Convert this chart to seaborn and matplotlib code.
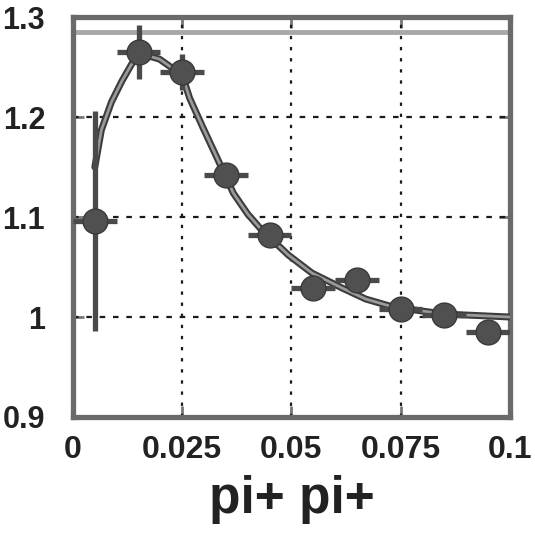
import matplotlib
matplotlib.use("Agg")
import matplotlib.pyplot as plt
import seaborn as sns
import pandas as pd

# Measured correlation points (bin centres in q, value, errors)
q_bins = [0.005, 0.015, 0.025, 0.035, 0.045, 0.055, 0.065, 0.075, 0.085, 0.095]
corr = [1.096, 1.265, 1.245, 1.142, 1.082, 1.029, 1.037, 1.008, 1.002, 0.985]
corr_err = [0.110, 0.027, 0.018, 0.006, 0.006, 0.005, 0.005, 0.005, 0.005, 0.005]
q_halfwidth = [0.005] * 10

# Fitted curve samples
fit_q = [0.0050, 0.0065, 0.0088, 0.0112, 0.0133, 0.0150, 0.0198, 0.0250, 0.0267,
         0.0298, 0.0330, 0.0367, 0.0400, 0.0430, 0.0493, 0.0547, 0.0616, 0.0670,
         0.0733, 0.0849, 0.1000]
fit_c = [1.150, 1.187, 1.215, 1.236, 1.252, 1.264, 1.258, 1.242, 1.219,
         1.189, 1.159, 1.124, 1.103, 1.088, 1.062, 1.044, 1.029, 1.018,
         1.010, 1.003, 1.000]

# Fit parameter shown as a horizontal reference
lambda_level = 1.285

x_ticks = [0, 0.025, 0.05, 0.075, 0.1]
x_tick_labels = ["0", "0.025", "0.05", "0.075", "0.1"]
y_ticks = [0.9, 1.0, 1.1, 1.2, 1.3]
y_tick_labels = ["0.9", "1", "1.1", "1.2", "1.3"]

sns.set_style("white")
plt.rcParams["font.family"] = ["Liberation Sans", "DejaVu Sans"]

fig = plt.figure(figsize=(5.35, 5.35), dpi=100)
ax = fig.add_axes([0.1364, 0.2206, 0.953 - 0.1364, 0.968 - 0.2206])

points = pd.DataFrame({"q": q_bins, "C": corr})
curve = pd.DataFrame({"q": fit_q, "C": fit_c})

# Grid
for xv in x_ticks[1:-1]:
    ax.axvline(xv, color="#1a1a1a", lw=1.6, ls=(0, (1.5, 3.5)), zorder=1)
for yv in y_ticks[1:-1]:
    ax.axhline(yv, color="#1a1a1a", lw=1.6, ls=(0, (2.5, 3.5)), zorder=1)

ax.axhline(lambda_level, color="#a8a8a8", lw=3.5, zorder=2)

# Fitted curve: dark outline with lighter core
sns.lineplot(data=curve, x="q", y="C", ax=ax, color="#3c3c3c", lw=5.0, zorder=3,
             estimator=None, sort=False)
sns.lineplot(data=curve, x="q", y="C", ax=ax, color="#9a9a9a", lw=2.0, zorder=4,
             estimator=None, sort=False)

ax.errorbar(q_bins, corr, yerr=corr_err, xerr=q_halfwidth, fmt="none",
            ecolor="#4a4a4a", elinewidth=3.8, capsize=0, zorder=5)
sns.scatterplot(data=points, x="q", y="C", ax=ax, s=320, color="#505050",
                edgecolor="#3a3a3a", linewidth=1, zorder=6)

ax.set_xlim(0, 0.1)
ax.set_ylim(0.9, 1.3)
ax.set_xticks(x_ticks)
ax.set_xticklabels(x_tick_labels, fontsize=23, fontweight="bold", color="#222222")
ax.set_yticks(y_ticks)
ax.set_yticklabels(y_tick_labels, fontsize=22, fontweight="bold", color="#222222")
ax.tick_params(axis="x", direction="in", length=8, width=2, color="#777777",
               pad=13, top=True, bottom=True)
ax.tick_params(axis="y", direction="in", length=8, width=2, color="#777777",
               pad=20, left=True, right=True)

ax.set_xlabel("pi+ pi+", fontsize=37, fontweight="bold", color="#222222", labelpad=7)
ax.set_ylabel("")

for sp in ax.spines.values():
    sp.set_color("#6a6a6a")
    sp.set_linewidth(3.8)
    sp.set_visible(True)

fig.savefig("out.png", dpi=100)
